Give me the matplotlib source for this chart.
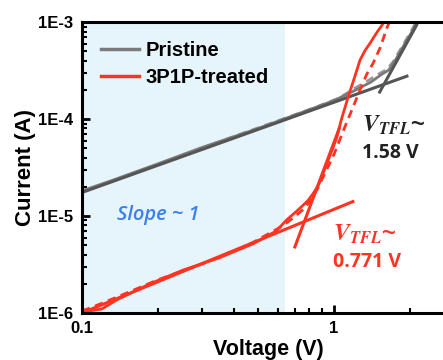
import math
import matplotlib
matplotlib.use('Agg')
import matplotlib.pyplot as plt
from matplotlib.ticker import FixedLocator, FuncFormatter, LogLocator, NullFormatter

plt.rcParams['font.family'] = ['Liberation Sans', 'DejaVu Sans']
plt.rcParams['mathtext.fontset'] = 'stix'

# === data ===
# Pristine, measured (solid / dashed sweep)
v_pri = [0.1, 0.13, 0.2, 0.3, 0.5, 0.7, 1.0, 1.2, 1.4, 1.55, 1.65, 1.75, 1.9, 2.05, 2.15]
i_pri = [1.82e-5, 2.3e-5, 3.45e-5, 5.1e-5, 8.0e-5, 1.1e-4, 1.55e-4, 1.95e-4, 2.4e-4,
         2.9e-4, 3.2e-4, 4.0e-4, 5.8e-4, 8.1e-4, 1.05e-3]
v_pri_d = [0.1, 0.15, 0.25, 0.4, 0.6, 0.85, 1.05, 1.2, 1.35, 1.5, 1.62, 1.72, 1.85, 2.0, 2.12]
i_pri_d = [1.75e-5, 2.6e-5, 4.2e-5, 6.6e-5, 9.6e-5, 1.33e-4, 1.65e-4, 2.05e-4, 2.45e-4,
           2.9e-4, 3.25e-4, 3.9e-4, 5.4e-4, 7.6e-4, 1.0e-3]
# Pristine, fit lines (ohmic / trap-filled)
v_pri_fit1 = [0.1, 1.95]
i_pri_fit1 = [1.75e-5, 2.77e-4]
v_pri_fit2 = [1.52, 2.13]
i_pri_fit2 = [1.9e-4, 9.3e-4]

# 3P1P-treated, measured
v_red = [0.1, 0.12, 0.137, 0.186, 0.252, 0.35, 0.48, 0.59, 0.649, 0.70, 0.745, 0.79, 0.828,
         0.87, 0.908, 0.95, 0.99, 1.024, 1.07, 1.14, 1.21, 1.27, 1.33, 1.39, 1.48, 1.57, 1.60]
i_red = [1.02e-6, 1.1e-6, 1.36e-6, 2.0e-6, 2.77e-6, 3.7e-6, 5.2e-6, 7.0e-6, 9.1e-6, 1.08e-5,
         1.25e-5, 1.45e-5, 1.71e-5, 2.1e-5, 2.8e-5, 3.8e-5, 5.0e-5, 6.3e-5, 9.8e-5, 1.7e-4,
         2.73e-4, 4.06e-4, 5.1e-4, 6.03e-4, 7.8e-4, 9.7e-4, 1.05e-3]
v_red_d = [0.1, 0.111, 0.15, 0.2, 0.3, 0.45, 0.62, 0.68, 0.75, 0.80, 0.86, 0.93, 1.0, 1.06,
           1.12, 1.18, 1.27, 1.35, 1.43, 1.53, 1.62, 1.66]
i_red_d = [1.05e-6, 1.16e-6, 1.6e-6, 2.2e-6, 3.2e-6, 4.9e-6, 7.8e-6, 9.3e-6, 1.15e-5, 1.4e-5,
           1.9e-5, 2.9e-5, 4.3e-5, 6.3e-5, 9.0e-5, 1.25e-4, 2.0e-4, 2.9e-4, 3.75e-4, 5.5e-4,
           8.6e-4, 1.0e-3]
v_red_fit1 = [0.1, 1.19]
i_red_fit1 = [1.0e-6, 1.41e-5]
v_red_fit2 = [0.70, 1.05]
i_red_fit2 = [4.8e-6, 8.0e-5]

ohmic_span = [0.1, 0.64]
x_ticks = [0.1, 1]
y_ticks = [1e-6, 1e-5, 1e-4, 1e-3]

GRAY = '#7a7a7a'
GRAY_D = '#999999'
GRAY_FIT = '#555555'
RED = '#ff3322'

fig = plt.figure(figsize=(4.43, 3.6), dpi=100)
ax = fig.add_axes([0.185, 0.1306, 0.84, 0.808])

ax.axvspan(ohmic_span[0], ohmic_span[1], color='#e6f5fc', zorder=0, lw=0)

ax.plot(v_pri_d, i_pri_d, color=GRAY_D, lw=2, ls=(0, (3, 2)))
ax.plot(v_pri, i_pri, color=GRAY, lw=2)
ax.plot(v_pri_fit1, i_pri_fit1, color=GRAY_FIT, lw=2.2)
ax.plot(v_pri_fit2, i_pri_fit2, color=GRAY_FIT, lw=2.2)

ax.plot(v_red_d, i_red_d, color=RED, lw=2, ls=(0, (3, 2)))
ax.plot(v_red, i_red, color=RED, lw=2)
ax.plot(v_red_fit1, i_red_fit1, color=RED, lw=2.2)
ax.plot(v_red_fit2, i_red_fit2, color=RED, lw=2.2)

# legend handles only
ax.plot([], [], color=GRAY, lw=2.5, label='Pristine')
ax.plot([], [], color=RED, lw=2.5, label='3P1P-treated')
h, l = ax.get_legend_handles_labels()
ax.legend(h[-2:], l[-2:], loc='upper left', bbox_to_anchor=(0.0, 1.0), frameon=False,
          prop={'weight': 'bold', 'size': 14.5}, handlelength=1.9, handletextpad=0.3,
          labelspacing=0.4, borderaxespad=0.55)

ax.set_xscale('log')
ax.set_yscale('log')
ax.set_xlim(0.1, 3)
ax.set_ylim(1e-6, 1e-3)

ax.xaxis.set_major_locator(FixedLocator(x_ticks))
ax.xaxis.set_major_formatter(FuncFormatter(lambda v, p: '%g' % v))
ax.xaxis.set_minor_locator(LogLocator(base=10, subs=range(2, 10)))
ax.xaxis.set_minor_formatter(NullFormatter())
ax.yaxis.set_major_locator(FixedLocator(y_ticks))
ax.yaxis.set_major_formatter(FuncFormatter(lambda v, p: '1E%d' % round(math.log10(v))))
ax.yaxis.set_minor_locator(LogLocator(base=10, subs=range(2, 10)))
ax.yaxis.set_minor_formatter(NullFormatter())

for s in ax.spines.values():
    s.set_linewidth(2.2)
ax.tick_params(which='major', direction='in', length=6, width=2, labelsize=12, pad=6)
ax.tick_params(which='minor', direction='in', length=3.5, width=1.5)
for t in ax.get_xticklabels() + ax.get_yticklabels():
    t.set_fontweight('bold')

ax.set_xlabel('Voltage (V)', fontsize=15.5, fontweight='bold', labelpad=2)
ax.set_ylabel('Current (A)', fontsize=16, fontweight='bold', labelpad=2)

ax.text(0.2, 1.02e-5, 'Slope ~ 1', color='#3a80f0', fontsize=14.5, style='italic',
        fontweight='semibold', family='Open Sans', ha='center', va='center')
ax.text(1.29, 8.7e-5, r'$\mathbfit{V}_{\mathbfit{TFL}}$~', color='#222222', fontsize=17,
        fontweight='bold', ha='left', va='center')
ax.text(1.29, 4.5e-5, '1.58 V', color='#222222', fontsize=14, fontweight='bold',
        family='Open Sans', ha='left', va='center')
ax.text(0.99, 6.4e-6, r'$\mathbfit{V}_{\mathbfit{TFL}}$~', color=RED, fontsize=17,
        fontweight='bold', ha='left', va='center')
ax.text(0.99, 3.36e-6, '0.771 V', color=RED, fontsize=14, fontweight='bold',
        family='Open Sans', ha='left', va='center')

plt.savefig('out.png', dpi=100)
